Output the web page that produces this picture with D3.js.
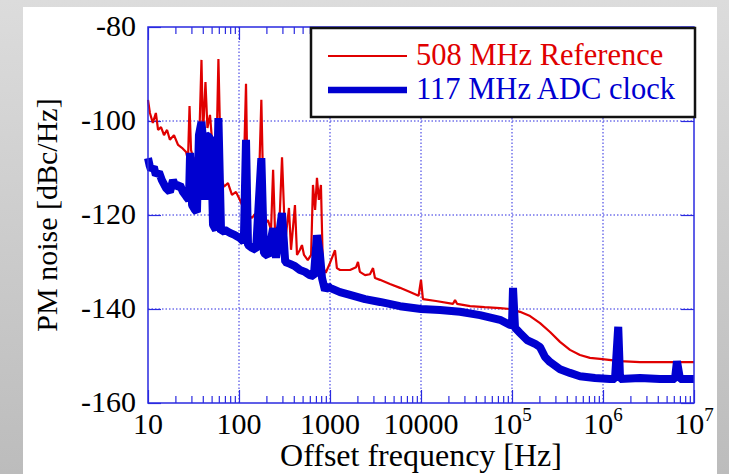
<!doctype html>
<html>
  <head>
    <meta charset="utf-8">
    <title>PM noise</title>
    <script src="https://cdn.jsdelivr.net/npm/d3@7/dist/d3.min.js"></script>
    <style>
      body { margin: 0; }
    </style>
  </head>
  <body>
    <script>
      // 508 MHz reference: offset frequency [Hz] and PM noise [dBc/Hz]
      const refFreq = [10, 10.5, 11.3, 12.2, 12.9, 13.9, 15.0, 16.2, 17.4, 19.3, 21.4, 23.6, 26.2, 27.5, 28.6, 29.7,
        31.3, 33.7, 36.3, 38.7, 40.2, 42.8, 45.0, 48.0, 50.5, 53.1, 55.8, 59.4, 63.5, 68.4, 75.7, 83.7, 92.7,
        102.5, 110.4, 119.4, 125.6, 139, 150, 161, 176, 188, 208, 225, 237, 249, 274, 297, 322, 354, 373, 412,
        434, 468, 492, 518, 570, 620, 650, 686, 719, 754, 795, 835, 898, 1000, 1135, 1190, 1288, 1660, 1935,
        2030, 2130, 2427, 2750, 2971, 3120, 3543, 4560, 5878, 7568, 9400, 10000, 10500, 14600, 22500, 23660,
        24900, 34600, 50000, 73800, 95100, 122400, 157900, 203300, 261900, 336900, 433600, 558400, 719000,
        926000, 1.54e6, 2.55e6, 1e7];
      const refNoise = [-95.5, -98.3, -100.4, -98.3, -101.9, -101.3, -103, -101.9, -104, -103, -105.1, -105.7, -106.6,
        -108.3, -96.8, -106.2, -107.7, -108.3, -106.2, -87, -103, -91.7, -101.5, -98.7, -104, -110.4, -112.1,
        -86.8, -111.9, -114, -113.2, -115.7, -115.1, -116.8, -118.3, -92.1, -120, -120.6, -119.8, -121.5, -95.5,
        -122.1, -121.1, -123.2, -110.4, -123.8, -124.9, -107.7, -125.7, -118.5, -127.4, -117.9, -128.5, -127.4,
        -126.4, -128.5, -129.6, -128.5, -113.6, -118.9, -112.1, -116.8, -113.6, -131.1, -132.3, -130.2, -127.5,
        -131.3, -131.7, -131.7, -131.1, -130, -132.1, -132.8, -132.6, -131.3, -133.4, -133.8, -134.7, -135.5,
        -136.4, -137.2, -133.8, -137.9, -138.3, -138.9, -138.1, -138.9, -139.4, -139.6, -139.8, -140, -140.6,
        -141.5, -143, -144.9, -147, -148.7, -149.8, -150.4, -150.6, -151.1, -151.3, -151.3];

      // 117 MHz ADC clock
      const adcFreq = [10, 10.4, 10.8, 11.6, 12.2, 13.2, 14.2, 15.8, 17.4, 18.8, 20.3, 22.5, 24.2, 26.2, 28.2, 29.0,
        30.5, 32.8, 34.5, 36.3, 38.7, 40.2, 42.3, 43.4, 46.8, 49.2, 51.8, 55.8, 59.4, 63.5, 70.2, 79.4, 90.5,
        102.5, 113, 119.4, 125.6, 139, 154, 176, 188, 208, 237, 255, 297, 322, 363, 412, 468, 531, 600, 665,
        719, 776, 817, 881, 950, 1000, 1288, 1660, 2427, 3543, 5878, 10000, 16180, 26800, 44490, 73800, 95100,
        100000, 102600, 107900, 122400, 146200, 179200, 203300, 230700, 261900, 336900, 433600, 558400, 816000,
        1.19e6, 1.355e6, 1.47e6, 1.54e6, 2.55e6, 4.23e6, 6.18e6, 6.5e6, 7.01e6, 1e7];
      const adcNoise = [-107.9, -109.4, -110.4, -109.8, -111.5, -110.9, -112.6, -114.3, -115.1, -112.6, -114, -113.6,
        -115.1, -116, -116.8, -106.8, -117.9, -118.9, -119.4, -103, -100.2, -104, -116.8, -103, -103.4, -104,
        -122.1, -123.2, -99.4, -123.6, -123.2, -123.8, -124.3, -124.9, -125.7, -104, -126.4, -127, -127.4,
        -107.9, -128.1, -128.7, -122.8, -129.1, -119.6, -130, -130.4, -130.9, -131.7, -132.1, -132.8, -133,
        -124.3, -128.5, -133.4, -136, -135.1, -135.5, -136.4, -137, -137.9, -138.5, -139.4, -140, -140.2,
        -140.6, -141.3, -142.3, -143.4, -143.4, -135.5, -144, -145.1, -146.6, -147.4, -148.1, -150.2, -151.3,
        -152.8, -153.6, -154.3, -154.7, -154.9, -154.9, -143.8, -154.9, -154.7, -154.9, -154.9, -151.1, -154.9,
        -154.9];

      const xMajor = [10, 100, 1000, 10000, 1e5, 1e6, 1e7];
      const xLabels = [['10', ''], ['100', ''], ['1000', ''], ['10000', ''], ['10', '5'], ['10', '6'], ['10', '7']];
      const yMajor = [-160, -140, -120, -100, -80];
      const legendNames = ['508 MHz Reference', '117 MHz ADC clock'];

      const width = 729;
      const height = 474;
      const plotLeft = 148, plotRight = 694, plotTop = 27, plotBottom = 403;
      const red = '#e00000';
      const blue = '#0000d0';
      const axisBlue = '#2a2ae0';
      const serif = "'Liberation Serif', 'Times New Roman', serif";

      const svg = d3.select('body').append('svg')
          .attr('width', width)
          .attr('height', height)
          .style('font-family', serif);

      // slide background
      const grad = svg.append('defs').append('linearGradient')
          .attr('id', 'bg').attr('x1', 0).attr('y1', 0).attr('x2', 0).attr('y2', 1);
      grad.append('stop').attr('offset', '0%').attr('stop-color', '#dcdcdc');
      grad.append('stop').attr('offset', '100%').attr('stop-color', '#bcbcbc');
      svg.append('rect').attr('width', width).attr('height', height).attr('fill', 'url(#bg)');
      svg.append('rect')
          .attr('x', 23).attr('y', 7)
          .attr('width', 694).attr('height', height - 7)
          .attr('fill', '#fff');

      const x = d3.scaleLog().domain([10, 1e7]).range([plotLeft, plotRight]);
      const y = d3.scaleLinear().domain([-160, -80]).range([plotBottom, plotTop]);

      // minor ticks 2..9 in every decade
      const xMinor = [];
      xMajor.slice(0, -1).forEach(d => {
        for (let k = 2; k < 10; k++) xMinor.push(d * k);
      });

      // dotted grid
      const grid = svg.append('g')
          .attr('stroke', axisBlue)
          .attr('stroke-width', 1)
          .attr('stroke-dasharray', '1.5,2');
      grid.selectAll('line.vx')
        .data(xMajor.slice(1, -1))
        .enter().append('line')
          .attr('x1', d => x(d)).attr('x2', d => x(d))
          .attr('y1', plotTop).attr('y2', plotBottom);
      grid.selectAll('line.hy')
        .data(yMajor.slice(1, -1))
        .enter().append('line')
          .attr('x1', plotLeft).attr('x2', plotRight)
          .attr('y1', d => y(d)).attr('y2', d => y(d));

      // ticks drawn inward on all four sides
      const tickAxis = (axis, tx, ty) => {
        const g = svg.append('g')
            .attr('transform', `translate(${tx},${ty})`)
            .call(axis);
        g.select('.domain').remove();
        g.selectAll('line').attr('stroke', axisBlue).attr('stroke-width', 1.2);
        g.selectAll('text').remove();
      };
      tickAxis(d3.axisBottom(x).tickValues(xMajor).tickSize(-13), 0, plotBottom);
      tickAxis(d3.axisBottom(x).tickValues(xMinor).tickSize(-7), 0, plotBottom);
      tickAxis(d3.axisTop(x).tickValues(xMajor).tickSize(-13), 0, plotTop);
      tickAxis(d3.axisTop(x).tickValues(xMinor).tickSize(-7), 0, plotTop);
      tickAxis(d3.axisLeft(y).tickValues(yMajor).tickSize(-13), plotLeft, 0);
      tickAxis(d3.axisRight(y).tickValues(yMajor).tickSize(-13), plotRight, 0);

      // curves
      const line = d3.line()
          .x(d => x(d[0]))
          .y(d => y(d[1]));

      svg.append('path')
          .datum(d3.zip(refFreq, refNoise))
          .attr('d', line)
          .attr('fill', 'none')
          .attr('stroke', red)
          .attr('stroke-width', 2.2)
          .attr('stroke-linejoin', 'bevel');

      svg.append('path')
          .datum(d3.zip(adcFreq, adcNoise))
          .attr('d', line)
          .attr('fill', 'none')
          .attr('stroke', blue)
          .attr('stroke-width', 8)
          .attr('stroke-linejoin', 'bevel');

      // frame
      svg.append('rect')
          .attr('x', plotLeft).attr('y', plotTop)
          .attr('width', plotRight - plotLeft).attr('height', plotBottom - plotTop)
          .attr('fill', 'none')
          .attr('stroke', axisBlue)
          .attr('stroke-width', 1.5);

      // tick labels
      svg.append('g')
          .attr('font-family', serif)
          .attr('font-size', 30)
          .attr('text-anchor', 'end')
        .selectAll('text')
        .data(yMajor)
        .enter().append('text')
          .attr('x', 136)
          .attr('y', d => y(d))
          .attr('dy', '0.3em')
          .text(d => d);

      const xl = svg.append('g')
          .attr('font-family', serif)
          .attr('font-size', 30)
          .attr('text-anchor', 'middle')
        .selectAll('text')
        .data(xMajor)
        .enter().append('text')
          .attr('x', d => x(d))
          .attr('y', 434);
      xl.append('tspan').text((d, i) => xLabels[i][0]);
      xl.append('tspan')
          .attr('font-size', 19)
          .attr('dy', -13)
          .text((d, i) => xLabels[i][1]);

      // axis titles
      svg.append('text')
          .attr('x', (plotLeft + plotRight) / 2)
          .attr('y', 466)
          .attr('font-family', serif)
          .attr('font-size', 32)
          .attr('text-anchor', 'middle')
          .text('Offset frequency [Hz]');

      svg.append('text')
          .attr('transform', `translate(57,${(plotTop + plotBottom) / 2}) rotate(-90)`)
          .attr('font-family', serif)
          .attr('font-size', 30)
          .attr('text-anchor', 'middle')
          .text('PM noise [dBc/Hz]');

      // legend
      const legend = svg.append('g');
      legend.append('rect')
          .attr('x', 311).attr('y', 28)
          .attr('width', 384).attr('height', 89)
          .attr('fill', '#fff')
          .attr('stroke', '#111')
          .attr('stroke-width', 2.5);
      const items = legend.selectAll('g')
        .data(legendNames)
        .enter().append('g')
          .attr('transform', (d, i) => `translate(0,${56 + i * 34})`);
      items.append('line')
          .attr('x1', 328).attr('x2', 407)
          .attr('stroke', (d, i) => i ? blue : red)
          .attr('stroke-width', (d, i) => i ? 6.5 : 2);
      items.append('text')
          .attr('x', 416)
          .attr('y', 9)
          .attr('font-family', serif)
          .attr('font-size', 30.5)
          .attr('fill', (d, i) => i ? blue : red)
          .text(d => d);
    </script>
  </body>
</html>
